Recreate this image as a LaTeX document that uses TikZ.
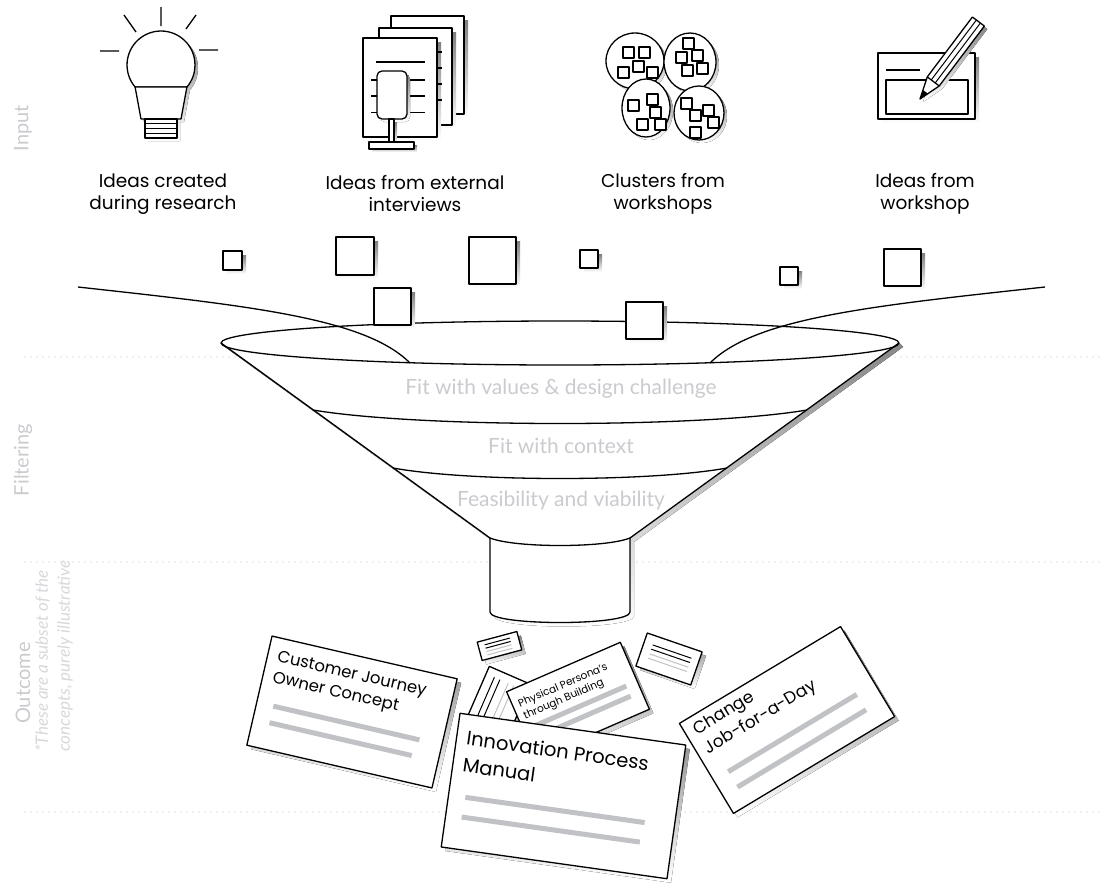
\documentclass[tikz,border=0pt]{standalone}
\usepackage{fontspec}
\setmainfont{Poppins}
\newfontfamily\latofont{Lato}
\definecolor{shade}{RGB}{192,194,198}
\definecolor{softgray}{RGB}{202,203,207}
\definecolor{paletext}{RGB}{216,216,220}
\definecolor{dotgray}{RGB}{190,191,196}

% A card: drop shadow, white body, then its contents in the card's own frame
\newcommand{\ideacard}[6]{%
  \begin{scope}[shift={(#1+4,#2+4)},rotate=#3]
    \fill[shade] (-#4/2,-#5/2) rectangle (#4/2,#5/2);
  \end{scope}
  \begin{scope}[shift={(#1,#2)},rotate=#3,transform shape]
    \draw[box] (-#4/2,-#5/2) rectangle (#4/2,#5/2);
    #6
  \end{scope}}

\begin{document}
\begin{tikzpicture}[x=1pt,y=-1pt,line join=round,
  outline/.style={draw=black,line width=1.3pt},
  box/.style={outline,fill=white},
  thinbox/.style={draw=black,line width=1.1pt,fill=white},
  dotline/.style={draw=dotgray,line width=1.4pt,line cap=round,dash pattern=on 0pt off 6pt},
  bar/.style={draw=shade,line width=5pt},
  inkline/.style={draw=black,line width=1pt},
  greyline/.style={draw=shade,line width=1pt},
  cardtext/.style={anchor=north west,inner sep=0pt,align=left},
  toplabel/.style={align=center,inner sep=0pt,font=\fontsize{18.5}{22}\selectfont},
  stagelabel/.style={text=softgray,inner sep=0pt,font=\latofont\fontsize{21}{25}\selectfont},
  sidelabel/.style={text=softgray,inner sep=0pt,rotate=90,font=\latofont\fontsize{20}{24}\selectfont},
  notelabel/.style={text=paletext,inner sep=0pt,rotate=90,align=left,font=\latofont\itshape\fontsize{17}{22}\selectfont}]
\useasboundingbox (0,0) rectangle (1101,884);

% ---------- section dividers and side labels ----------
\draw[dotline] (25,357) -- (1101,357);
\draw[dotline] (25,562) -- (1101,562);
\draw[dotline] (25,812) -- (1101,812);

\node[sidelabel] (sideinput) at (23,128) {Input};
\node[sidelabel] (sidefilter) at (23,460) {Filtering};
\node[sidelabel] (sideoutcome) at (23,683) {Outcome};
\node[notelabel,anchor=north west] (sidenote) at (35,752) {*These are a subset of the\\concepts, purely illustrative};

% ---------- light bulb ----------
\begin{scope}[shift={(3,3)}]
  \fill[shade] (135.1,87) arc[start angle=139.7,end angle=400.3,radius=34]
    -- (181,119) -- (177,119) -- (177,138) -- (145,138) -- (145,119) -- (141,119) -- cycle;
\end{scope}
\draw[box] (135.1,87) arc[start angle=139.7,end angle=400.3,radius=34] -- cycle;
\draw[box] (135.1,87) -- (141,119) -- (181,119) -- (186.9,87) -- cycle;
\draw[box] (145,119) rectangle (177,138);
\draw[outline] (145,123.8) -- (177,123.8) (145,128.5) -- (177,128.5) (145,133.2) -- (177,133.2);
\draw[outline] (161,7) -- (161,26)
  (124,15) -- (136,32)
  (196,15) -- (186,29)
  (100,51) -- (119,51)
  (199,50) -- (218,50);

% ---------- interview documents ----------
\fill[shade] (395,20) rectangle (468,118);
\draw[box] (391,16) rectangle (464,114);
\fill[shade] (383,32) rectangle (456,129);
\draw[box] (379,28) rectangle (452,125);
\fill[shade] (367,42) rectangle (441,141);
\draw[box] (363,38) rectangle (437,137);
\draw[outline] (437,52) -- (442,52) (437,68) -- (442,68) (437,84) -- (442,84) (437,100) -- (442,100);
\draw[outline] (376,62) -- (425,62);
\draw[outline] (371,80) -- (425,80) (371,96) -- (425,96);
\draw[inkline] (371,112) -- (425,112);
\fill[shade,rounded corners=5pt] (380,74) rectangle (410,122);
\draw[box,rounded corners=5pt] (377,71) rectangle (407,119);
\fill[shade] (392,122) rectangle (397,145);
\fill[shade] (372,145) rectangle (417,152);
\draw[box] (389,119) rectangle (394,142);
\draw[box] (369,142) rectangle (414,149);

% ---------- workshop clusters ----------
\foreach \cx/\cy/\rx/\ry in {635/61/29/28, 690/62/26/29, 646/108/24/29, 699/113/25/27}{
  \fill[shade] (\cx+3,\cy+3) ellipse[x radius=\rx,y radius=\ry];
  \draw[box] (\cx,\cy) ellipse[x radius=\rx,y radius=\ry];
}
\foreach \sx/\sy in {623/47, 639/47, 618/67, 633/61, 647/67,
                     683/38, 676/52, 692/50, 682/65, 697/63,
                     628/100, 647/94, 650/107, 637/119, 655/119,
                     681/98, 690/110, 703/105, 708/117, 690/127}{
  \draw[thinbox] (\sx,\sy) rectangle ++(11,11);
}

% ---------- workshop sheet and pencil ----------
\fill[shade] (882,57) rectangle (979,123);
\draw[box] (878,53) rectangle (975,119);
\draw[outline] (886,70) -- (920,70);
\draw[outline] (886,80) rectangle (968,114);
\begin{scope}[shift={(923,102)},rotate=53]
  \fill[shade] (0,0) -- (22,-7.5) -- (97,-7.5) -- (97,7.5) -- (22,7.5) -- cycle;
\end{scope}
\begin{scope}[shift={(920,99)},rotate=53]
  \draw[box] (0,0) -- (22,-7.5) -- (97,-7.5) -- (97,7.5) -- (22,7.5) -- cycle;
  \draw[outline] (22,-7.5) -- (22,7.5);
  \draw[inkline] (22,-2.5) -- (97,-2.5) (22,2.5) -- (97,2.5);
  \fill[black] (0,0) -- (9,-3.1) -- (9,3.1) -- cycle;
\end{scope}

% ---------- input labels ----------
\node[toplabel] (lab1) at (163,194) {Ideas created\\during research};
\node[toplabel] (lab2) at (415,194) {Ideas from external\\interviews};
\node[toplabel] (lab3) at (663,194) {Clusters from\\workshops};
\node[toplabel] (lab4) at (925,194) {Ideas from\\workshop};

% ---------- funnel ----------
\fill[shade,shift={(4,4)}] (221,343) -- (490,538) -- (490,612)
  .. controls (490,626) and (630,626) .. (630,612) -- (630,538) -- (899,343)
  arc[start angle=0,end angle=-180,x radius=339,y radius=22] -- cycle;
\fill[white] (221,343) -- (490,538) -- (490,612)
  .. controls (490,626) and (630,626) .. (630,612) -- (630,538) -- (899,343)
  arc[start angle=0,end angle=-180,x radius=339,y radius=22] -- cycle;
\draw[outline] (221,343) -- (490,538) -- (490,612)
  .. controls (490,626) and (630,626) .. (630,612) -- (630,538) -- (899,343);
\draw[outline] (490,538) .. controls (515,548) and (605,548) .. (630,538);
\draw[outline] (313,410) .. controls (420,428) and (700,428) .. (807,410);
\draw[outline] (393,468) .. controls (470,482) and (650,482) .. (727,468);
\draw[outline] (560,343) ellipse[x radius=339,y radius=22];

\node[stagelabel] (stage1) at (561,389) {Fit with values \& design challenge};
\node[stagelabel] (stage2) at (561,446) {Fit with context};
\node[stagelabel] (stage3) at (561,501) {Feasibility and viability};

% streams of ideas flowing into the funnel
\draw[outline] (78,287) .. controls (250,306) and (365,318) .. (410,363);
\draw[outline] (710,363) .. controls (755,318) and (870,306) .. (1045,287);

% ---------- idea squares ----------
\foreach \sx/\sy/\s in {223/251/19, 336/237/38, 469/237/47, 580/250/18,
                        374/288/37, 626/302/37, 780/267/18, 884/249/37}{
  \fill[shade] (\sx+4,\sy+4) rectangle ++(\s,\s);
  \draw[box] (\sx,\sy) rectangle ++(\s,\s);
}

% ---------- outcome cards ----------
\ideacard{352}{712}{-13}{190}{112}{
  \node[cardtext,font=\fontsize{16.5}{21}\selectfont] (cjtext) at (-85,-44) {Customer Journey\\Owner Concept};
  \draw[bar] (-78,12) -- (72,12);
  \draw[bar] (-78,29) -- (68,29);
}
\ideacard{494}{712}{66.5}{80}{45}{
  \draw[inkline] (-32,-13.5) -- (32,-13.5);
  \draw[inkline] (-32,-7.5) -- (32,-7.5);
  \draw[greyline] (-32,1.5) -- (32,1.5);
  \draw[greyline] (-32,7.5) -- (32,7.5);
}
\ideacard{499.5}{646}{15}{41}{19}{
  \draw[inkline] (-14,-5) -- (12,-5);
  \draw[inkline] (-14,-1.5) -- (12,-1.5);
  \draw[greyline] (-14,2) -- (12,2);
  \draw[greyline] (-14,5.5) -- (12,5.5);
}
\ideacard{578}{700.5}{23.5}{124}{73}{
  \node[cardtext,font=\fontsize{10.5}{13}\selectfont] (pptext) at (-56,-25) {Physical Persona’s\\through Building};
  \draw[bar] (-50,6) -- (50,6);
  \draw[bar] (-50,17) -- (50,17);
}
\ideacard{669}{659}{-19}{58}{35}{
  \draw[inkline] (-20,-8) -- (21,-8);
  \draw[inkline] (-20,-3.5) -- (21,-3.5);
  \draw[greyline] (-20,1.5) -- (21,1.5);
  \draw[greyline] (-20,6) -- (21,6);
}
\ideacard{787}{720}{31}{188}{105}{
  \node[cardtext,font=\fontsize{17}{22}\selectfont] (chtext) at (-85,-46) {Change\\Job-for-a-Day};
  \draw[bar] (-77,14) -- (73,14);
  \draw[bar] (-77,32) -- (73,32);
}
\ideacard{563.5}{796}{-8}{228}{135}{
  \node[cardtext,font=\fontsize{19.5}{27}\selectfont] (iptext) at (-104,-52) {Innovation Process\\Manual};
  \draw[bar] (-97,15) -- (84,15);
  \draw[bar] (-98,35) -- (82,35);
}
\end{tikzpicture}
\end{document}
